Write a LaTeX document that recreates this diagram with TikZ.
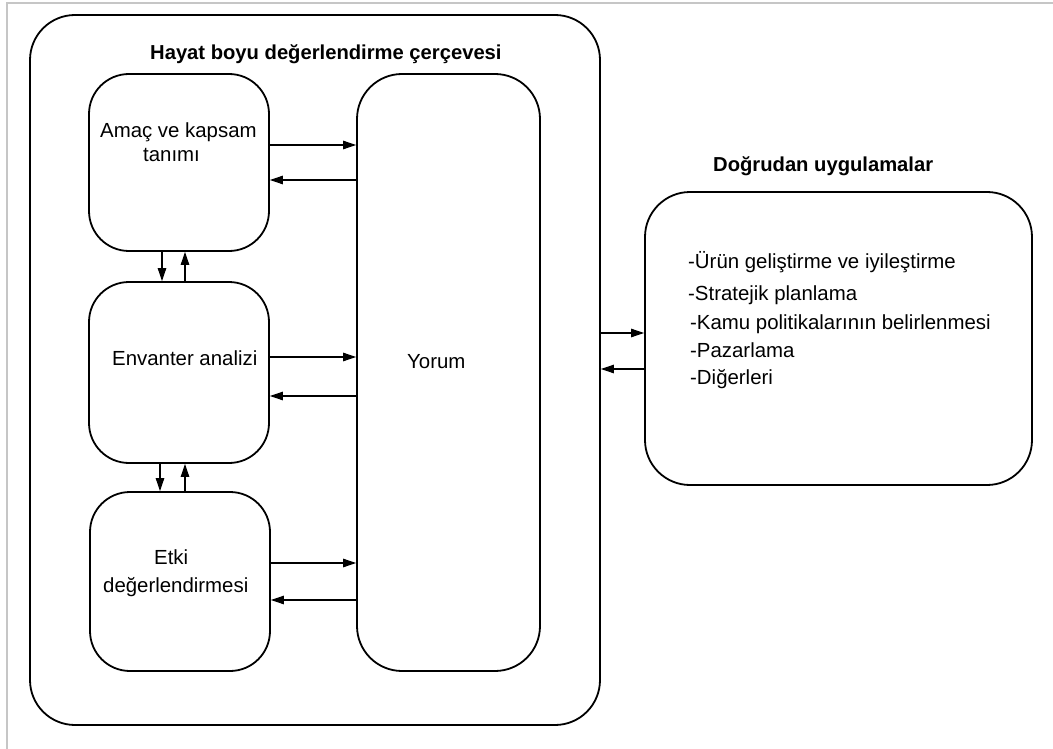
\documentclass[tikz,border=0pt]{standalone}
\usepackage{fontspec}
\setmainfont{Liberation Sans}
\usetikzlibrary{arrows.meta}
\begin{document}
\begin{tikzpicture}[x=1pt,y=-1pt,
  box/.style={draw, line width=1.8pt, rounded corners=40pt, inner sep=0pt},
  bigbox/.style={draw, line width=1.8pt, rounded corners=45pt, inner sep=0pt},
  lbl/.style={anchor=base west, inner sep=0pt, font=\fontsize{20.4}{24}\selectfont},
  ttl/.style={anchor=base west, inner sep=0pt, font=\fontsize{20.2}{24}\selectfont\bfseries},
  arr/.style={line width=1.1pt, -{Triangle[length=13pt,width=8.5pt]}}]
\useasboundingbox (0,0) rectangle (1053,749);
% thin grey frame on the top and left edges
\draw[gray!45, line width=2pt] (7,749) -- (7,3) -- (1053,3);

% framework and its stages
\node[bigbox, minimum width=570pt, minimum height=710pt] (outer) at (315,370) {};
\node[box, minimum width=180pt, minimum height=177pt] (b1) at (179,162.5) {};
\node[box, minimum width=180pt, minimum height=181pt] (b2) at (179,372.5) {};
\node[box, minimum width=180pt, minimum height=179pt] (b3) at (180,581.5) {};
\node[bigbox, minimum width=183pt, minimum height=597pt] (yorum) at (448.5,372.5) {};
\node[bigbox, minimum width=387pt, minimum height=293pt] (app) at (838.5,338.5) {};

% texts
\node[ttl] (t1) at (150,60) {Hayat boyu değerlendirme çerçevesi};
\node[lbl] (b1a) at (100,138) {Amaç ve kapsam};
\node[lbl] (b1b) at (143,162) {tanımı};
\node[lbl] (b2a) at (112,365) {Envanter analizi};
\node[lbl] (b3a) at (154,564) {Etki};
\node[lbl] (b3b) at (103,592) {değerlendirmesi};
\node[lbl] (ya) at (407,368) {Yorum};
\node[ttl] (t2) at (713,172) {Doğrudan uygulamalar};
\node[lbl] (l1) at (688,268) {-Ürün geliştirme ve iyileştirme};
\node[lbl] (l2) at (688,300) {-Stratejik planlama};
\node[lbl] (l3) at (690,329) {-Kamu politikalarının belirlenmesi};
\node[lbl] (l4) at (690,357) {-Pazarlama};
\node[lbl] (l5) at (690,384) {-Diğerleri};

% stage <-> interpretation
\draw[arr] ([yshift=17.5pt]b1.east) -- ([yshift=17.5pt]b1.east -| yorum.west);
\draw[arr] ([yshift=-17.5pt]b1.east -| yorum.west) -- ([yshift=-17.5pt]b1.east);
\draw[arr] ([yshift=15.5pt]b2.east) -- ([yshift=15.5pt]b2.east -| yorum.west);
\draw[arr] ([yshift=-23.5pt]b2.east -| yorum.west) -- ([yshift=-23.5pt]b2.east);
\draw[arr] ([yshift=18.5pt]b3.east) -- ([yshift=18.5pt]b3.east -| yorum.west);
\draw[arr] ([yshift=-18.5pt]b3.east -| yorum.west) -- ([yshift=-18.5pt]b3.east);

% stage <-> stage
\draw[arr] ([xshift=-17pt]b1.south) -- ([xshift=-17pt]b1.south |- b2.north);
\draw[arr] ([xshift=6pt]b1.south |- b2.north) -- ([xshift=6pt]b1.south);
\draw[arr] ([xshift=-19pt]b2.south) -- ([xshift=-19pt]b2.south |- b3.north);
\draw[arr] ([xshift=6pt]b2.south |- b3.north) -- ([xshift=6pt]b2.south);

% framework <-> applications
\draw[arr] ([yshift=5.5pt]app.west -| outer.east) -- ([yshift=5.5pt]app.west);
\draw[arr] ([yshift=-30.5pt]app.west) -- ([yshift=-30.5pt]app.west -| outer.east);
\end{tikzpicture}
\end{document}
